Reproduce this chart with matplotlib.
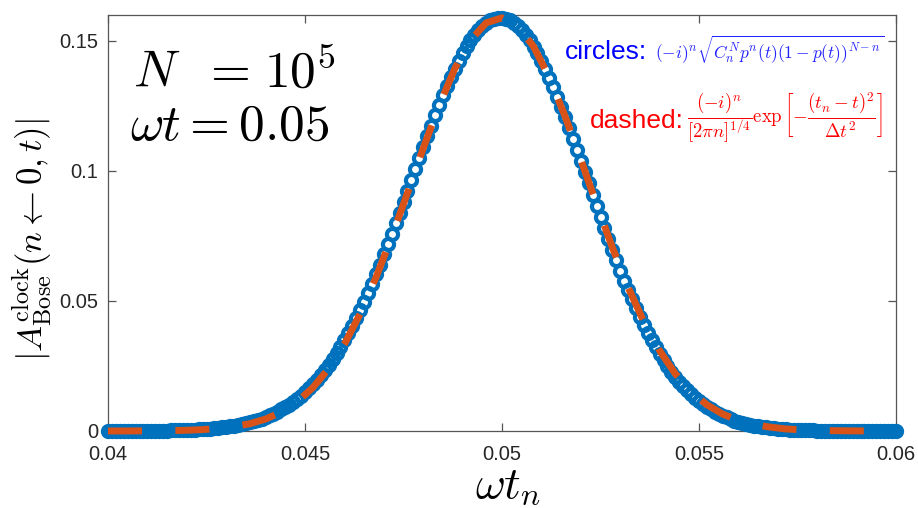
import numpy as np
import matplotlib.pyplot as plt

plt.rcParams.update({
    'font.family': ['Liberation Sans', 'DejaVu Sans'],
    'mathtext.fontset': 'cm',
    'lines.scale_dashes': True,
})

# ---------------------------------------------------------
# Data
# ---------------------------------------------------------
x_range = (0.04, 0.06)

# circles: one marker every 1e-4 in omega*t_n, from 0.04 to 0.06
circle_y = [
    0.00002, 0.00002, 0.00002, 0.00003, 0.00003, 0.00004, 0.00005, 0.00005, 0.00006, 0.00008,
    0.00009, 0.00010, 0.00012, 0.00014, 0.00017, 0.00019, 0.00023, 0.00026, 0.00031, 0.00035,
    0.00041, 0.00047, 0.00055, 0.00063, 0.00072, 0.00083, 0.00095, 0.0011, 0.0012, 0.0014,
    0.0016, 0.0018, 0.0021, 0.0024, 0.0027, 0.0030, 0.0034, 0.0038, 0.0043, 0.0048,
    0.0054, 0.0060, 0.0067, 0.0074, 0.0083, 0.0092, 0.0101, 0.0112, 0.0124, 0.0136,
    0.0150, 0.0164, 0.0180, 0.0197, 0.0215, 0.0234, 0.0254, 0.0276, 0.0299, 0.0324,
    0.0349, 0.0376, 0.0405, 0.0435, 0.0466, 0.0498, 0.0532, 0.0567, 0.0603, 0.0640,
    0.0679, 0.0718, 0.0758, 0.0799, 0.0840, 0.0882, 0.0924, 0.0966, 0.1009, 0.1051,
    0.1093, 0.1134, 0.1175, 0.1215, 0.1254, 0.1291, 0.1327, 0.1362, 0.1394, 0.1425,
    0.1453, 0.1479, 0.1503, 0.1524, 0.1542, 0.1558, 0.1570, 0.1580, 0.1586, 0.1589,
    0.1589,
    0.1586, 0.1580, 0.1570, 0.1557, 0.1542, 0.1523, 0.1502, 0.1478, 0.1452, 0.1423,
    0.1391, 0.1358, 0.1323, 0.1286, 0.1247, 0.1208, 0.1167, 0.1125, 0.1082, 0.1039,
    0.0995, 0.0952, 0.0908, 0.0865, 0.0822, 0.0779, 0.0737, 0.0696, 0.0656, 0.0616,
    0.0578, 0.0541, 0.0506, 0.0472, 0.0439, 0.0407, 0.0377, 0.0349, 0.0322, 0.0296,
    0.0272, 0.0249, 0.0228, 0.0208, 0.0189, 0.0172, 0.0156, 0.0141, 0.0127, 0.0115,
    0.0103, 0.0092, 0.0083, 0.0074, 0.0066, 0.0058, 0.0052, 0.0046, 0.0040, 0.0036,
    0.0031, 0.0027, 0.0024, 0.0021, 0.0018, 0.0016, 0.0014, 0.0012, 0.0010, 0.00089,
    0.00076, 0.00066, 0.00056, 0.00048, 0.00041, 0.00035, 0.00029, 0.00025, 0.00021, 0.00018,
    0.00015, 0.00012, 0.00010, 0.00009, 0.00007, 0.00006, 0.00005, 0.00004, 0.00003, 0.00003,
    0.00002, 0.00002, 0.00002, 0.00001, 0.00001, 0.00001, 0.00001, 0.00001, 0.0, 0.0,
]

# dashed Gaussian: one point every 4e-4
dashed_y = [
    0.00001, 0.00002, 0.00004, 0.00008, 0.00015, 0.00029, 0.00053, 0.0010, 0.0017, 0.0028,
    0.0046, 0.0073, 0.0112, 0.0167, 0.0240, 0.0334, 0.0451, 0.0590, 0.0747, 0.0915,
    0.1087, 0.1250, 0.1393, 0.1503, 0.1570, 0.1589, 0.1558, 0.1479, 0.1360, 0.1211,
    0.1044, 0.0873, 0.0706, 0.0553, 0.0420, 0.0309, 0.0220, 0.0152, 0.0101, 0.0065,
    0.0041, 0.0025, 0.0015, 0.0008, 0.00046, 0.00025, 0.00013, 0.00006, 0.00003, 0.00001,
    0.00001,
]

x_ticks = [0.04, 0.045, 0.05, 0.055, 0.06]
x_tick_labels = ['0.04', '0.045', '0.05', '0.055', '0.06']
y_ticks = [0, 0.05, 0.1, 0.15]
y_tick_labels = ['0', '0.05', '0.1', '0.15']

x_circles = np.linspace(*x_range, len(circle_y))
x_dashed = np.linspace(*x_range, len(dashed_y))

# ---------------------------------------------------------
# Plotting
# ---------------------------------------------------------
fig = plt.figure(figsize=(9.18, 5.08), dpi=100)
ax = fig.add_axes([108 / 918, 77 / 508, 788 / 918, 416 / 508])

ax.plot(x_circles, circle_y, 'o', color='#0072BD', mfc='none',
        markersize=8, markeredgewidth=3, clip_on=False, zorder=3)
ax.plot(x_dashed, dashed_y, color='#D95319', linewidth=5,
        linestyle=(0, (4.9, 4.8)), dash_capstyle='butt', clip_on=False, zorder=4)

ax.set_xlim(*x_range)
ax.set_ylim(0, 0.16)
ax.set_xticks(x_ticks)
ax.set_xticklabels(x_tick_labels)
ax.set_yticks(y_ticks)
ax.set_yticklabels(y_tick_labels)

for sp in ax.spines.values():
    sp.set_color('#555555')
    sp.set_linewidth(0.9)
ax.tick_params(direction='in', top=True, right=True, length=6, width=0.9,
               color='#555555', labelcolor='#262626', labelsize=14.5)
ax.tick_params(axis='x', pad=10)
ax.tick_params(axis='y', pad=7)

# Axis labels
fig.text(32 / 918, 1 - 240 / 508,
         r'$|A^{\rm clock}_{\rm Bose}(n \leftarrow 0, t)|$',
         rotation=90, ha='center', va='center', fontsize=25)
fig.text(475 / 918, 1 - 498 / 508, r'$\omega t_n$',
         ha='left', va='baseline', fontsize=33)

# Parameters ("N =10^5" has no gap after the equals sign)
fig.text(133 / 918, 1 - 87 / 508, r'$N\;\ =$', ha='left',
         va='baseline', fontsize=37)
fig.text(264 / 918, 1 - 87 / 508, r'$10^5$', ha='left',
         va='baseline', fontsize=37)
fig.text(130 / 918, 1 - 140 / 508, r'$\omega t = 0.05$', ha='left',
         va='baseline', fontsize=37)

# Legend-like annotations
fig.text(565 / 918, 1 - 59 / 508, 'circles:', color='#0000FF', fontsize=19,
         ha='left', va='baseline')
fig.text(655 / 918, 1 - 59 / 508,
         r'$(-i)^n\sqrt{C_n^N p^n(t)(1-p(t))^{N-n}}$',
         color='#2222FF', fontsize=12.5, ha='left', va='baseline')
fig.text(590 / 918, 1 - 128 / 508, 'dashed:', color='#FF0000', fontsize=19,
         ha='left', va='baseline')
fig.text(687 / 918, 1 - 118 / 508,
         r'$\dfrac{(-i)^n}{[2\pi n]^{1/4}}\exp\left[-\dfrac{(t_n-t)^2}{\Delta t^2}\right]$',
         color='#FF0000', fontsize=13.5, ha='left', va='center')

fig.savefig('out.png', dpi=100)
